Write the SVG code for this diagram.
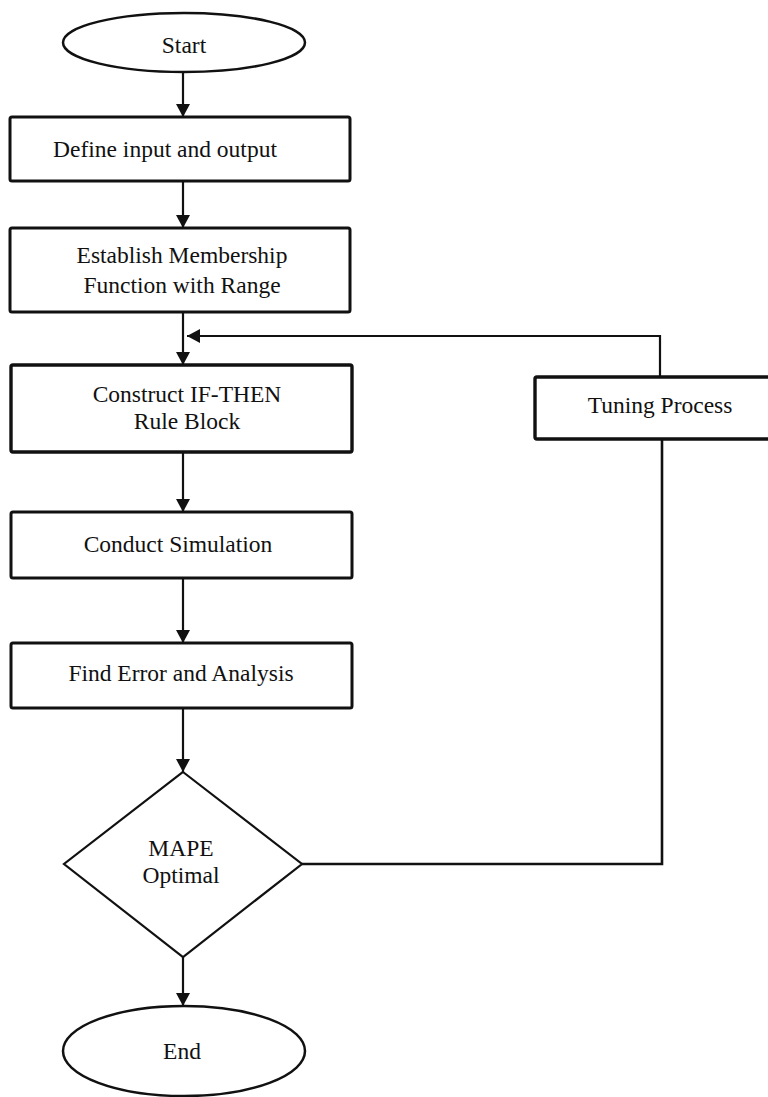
<svg xmlns="http://www.w3.org/2000/svg" width="768" height="1097" viewBox="0 0 768 1097">
<style>
.box{fill:#fff;stroke:#111;stroke-width:3}
.term{fill:#fff;stroke:#111;stroke-width:2.5}
.dia{fill:#fff;stroke:#111;stroke-width:2.2}
.lbl{font-family:"Liberation Serif","Times New Roman",serif;font-size:23.5px;fill:#111;text-anchor:middle}
.con{fill:none;stroke:#111;stroke-width:2.2}
.fb{fill:none;stroke:#111;stroke-width:2.6}
</style>
<defs>
<marker id="ah" markerUnits="userSpaceOnUse" markerWidth="14" markerHeight="14" refX="13" refY="7" orient="auto">
<path d="M0,0 L13,7 L0,14 z" fill="#111"/>
</marker>
</defs>
<rect width="768" height="1097" fill="#fff"/>
<g id="connectors">
<line class="con" x1="183" y1="72" x2="183" y2="117" marker-end="url(#ah)"/>
<line class="con" x1="183" y1="181" x2="183" y2="228" marker-end="url(#ah)"/>
<line class="con" x1="183" y1="312" x2="183" y2="365" marker-end="url(#ah)"/>
<line class="con" x1="183" y1="452" x2="183" y2="512" marker-end="url(#ah)"/>
<line class="con" x1="183" y1="578" x2="183" y2="643" marker-end="url(#ah)"/>
<line class="con" x1="183" y1="708" x2="183" y2="772" marker-end="url(#ah)"/>
<line class="con" x1="183" y1="957" x2="183" y2="1006" marker-end="url(#ah)"/>
<polyline class="fb" points="302,864 662,864 662,439"/>
<polyline class="con" points="660,377 660,336 187,336" marker-end="url(#ah)"/>
</g>
<g id="start">
<ellipse class="term" cx="184" cy="42.5" rx="121" ry="29.5"/>
<text class="lbl" x="184" y="53">Start</text>
</g>
<g id="define">
<rect class="box" x="10" y="117" width="340" height="64" rx="2"/>
<text class="lbl" x="165" y="157">Define input and output</text>
</g>
<g id="membership">
<rect class="box" x="10" y="228" width="340" height="84" rx="2"/>
<text class="lbl" x="182" y="263">Establish Membership</text>
<text class="lbl" x="182" y="293">Function with Range</text>
</g>
<g id="rules">
<rect class="box" x="11" y="365" width="341" height="87" rx="2" style="stroke-width:3.4"/>
<text class="lbl" x="187" y="402">Construct IF-THEN</text>
<text class="lbl" x="187" y="429">Rule Block</text>
</g>
<g id="simulation">
<rect class="box" x="11" y="512" width="341" height="66" rx="2"/>
<text class="lbl" x="178" y="552">Conduct Simulation</text>
</g>
<g id="error">
<rect class="box" x="11" y="643" width="341" height="65" rx="2"/>
<text class="lbl" x="181" y="681">Find Error and Analysis</text>
</g>
<g id="mape">
<polygon class="dia" points="183,772 302,864 183,957 64,864"/>
<text class="lbl" x="181" y="856">MAPE</text>
<text class="lbl" x="181" y="883">Optimal</text>
</g>
<g id="tuning">
<rect class="box" x="535" y="377" width="255" height="62" rx="2" style="stroke-width:3.4"/>
<text class="lbl" x="660" y="413">Tuning Process</text>
</g>
<g id="end">
<ellipse class="term" cx="184" cy="1051" rx="121" ry="45"/>
<text class="lbl" x="182" y="1059">End</text>
</g>
</svg>
